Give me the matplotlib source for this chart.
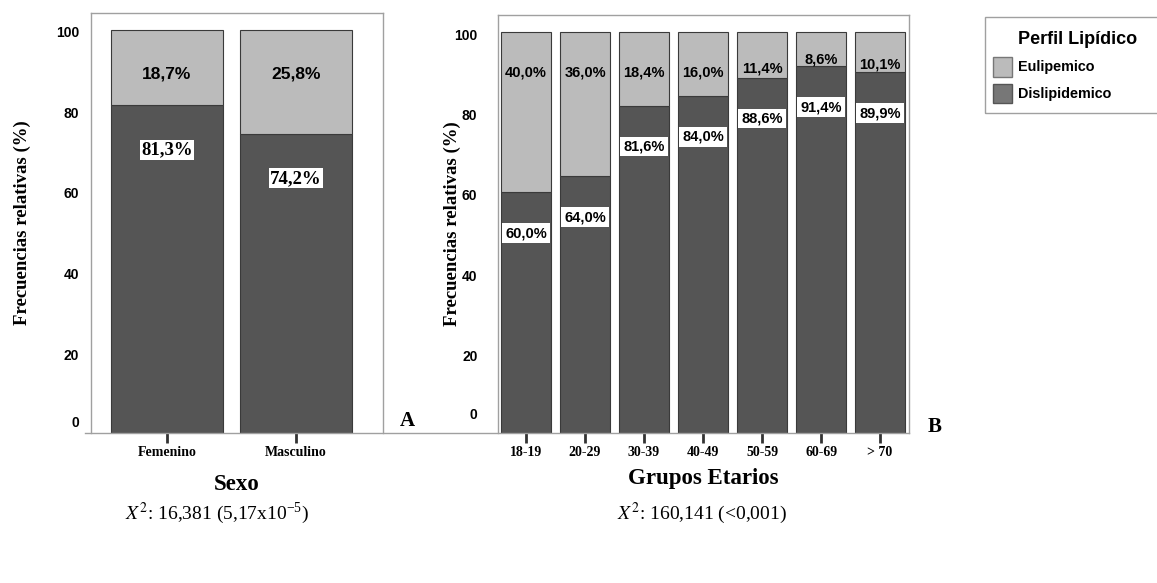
import numpy as np
import matplotlib
matplotlib.use("Agg")
import matplotlib.pyplot as plt
from matplotlib.patches import Patch, Rectangle
from matplotlib.lines import Line2D
import matplotlib.transforms as mtrans

# data
sexo = ["Femenino", "Masculino"]
sexo_disli = [81.3, 74.2]
sexo_euli = [18.7, 25.8]

grupos = ["18-19", "20-29", "30-39", "40-49", "50-59", "60-69", "> 70"]
grupos_disli = [60.0, 64.0, 81.6, 84.0, 88.6, 91.4, 89.9]
grupos_euli = [40.0, 36.0, 18.4, 16.0, 11.4, 8.6, 10.1]

yticks = [0, 20, 40, 60, 80, 100]

LIGHT = "#bbbbbb"
DARK = "#555555"
EDGE = "#3a3a3a"
FRAME = "#a0a0a0"
SANS = "Liberation Sans"
SERIF = "Liberation Serif"

W, H = 1157, 583
fig = plt.figure(figsize=(W / 100, H / 100), dpi=100)


def px(x0, y0, x1, y1):
    # pixel box -> figure fraction rect
    return [x0 / W, 1 - y1 / H, (x1 - x0) / W, (y1 - y0) / H]


def pct(v):
    return ("%.1f" % v).replace(".", ",") + "%"


def setupAx(ax, labels, xlim, lbl_pad, zero_up, other_dn):
    ax.set_xlim(*xlim)
    ax.set_ylim(0, 104.2)
    for s in ["left", "top", "right"]:
        ax.spines[s].set_color(FRAME)
        ax.spines[s].set_linewidth(1)
    ax.spines["bottom"].set_visible(False)
    ax.set_yticks([])
    tr = mtrans.blended_transform_factory(ax.transAxes, ax.transData)
    for v in yticks:
        off = zero_up if v == 0 else -other_dn
        ax.text(-lbl_pad, v + off, str(v), transform=tr, ha="right", va="center",
                fontfamily=SANS, fontweight="bold", fontsize=10)
    ax.set_xticks(range(len(labels)))
    ax.set_xticklabels(labels, fontfamily=SERIF, fontweight="bold", fontsize=10)
    ax.tick_params(axis="x", direction="out", length=7, width=2, color="#333333", pad=2)
    ax.set_ylabel("Frecuencias relativas (%)", fontfamily=SERIF, fontweight="bold", fontsize=13.5)


# ---- panel A
axA = fig.add_axes(px(91, 13, 383, 433))
x = np.arange(len(sexo))
axA.bar(x, sexo_disli, width=0.868, color=DARK, edgecolor=EDGE, linewidth=0.8)
axA.bar(x, sexo_euli, bottom=sexo_disli, width=0.868, color=LIGHT, edgecolor=EDGE, linewidth=0.8)
setupAx(axA, sexo, (-0.589, 1.674), 0.041, 2.5, 0.8)
axA.yaxis.set_label_coords(-0.205, 0.5)
for i in range(len(sexo)):
    top = sexo_disli[i] + sexo_euli[i]
    axA.text(x[i], min(100, top) - 11, pct(sexo_euli[i]),
             ha="center", va="center", fontfamily=SANS, fontweight="bold", fontsize=12.5)
    axA.text(x[i], sexo_disli[i] - 11, pct(sexo_disli[i]),
             ha="center", va="center", fontfamily=SERIF, fontweight="bold", fontsize=13.5,
             bbox=dict(boxstyle="square,pad=0.08", fc="white", ec="none"))
axA.set_xlabel("Sexo", fontfamily=SERIF, fontweight="bold", fontsize=16.5, labelpad=11)

# ---- panel B
axB = fig.add_axes(px(498, 15, 909, 433))
xb = np.arange(len(grupos))
axB.bar(xb, grupos_disli, width=0.85, color=DARK, edgecolor=EDGE, linewidth=0.8)
axB.bar(xb, grupos_euli, bottom=grupos_disli, width=0.85, color=LIGHT, edgecolor=EDGE, linewidth=0.8)
setupAx(axB, grupos, (-0.475, 6.49), 0.05, 4.5, 1.0)
axB.yaxis.set_label_coords(-0.09, 0.5)
for i in range(len(grupos)):
    lo = grupos_disli[i]
    seg = grupos_euli[i]
    ly = max(100 - 10.2, lo + 0.2 * seg)
    axB.text(xb[i], ly, pct(seg),
             ha="center", va="center", fontfamily=SANS, fontweight="bold", fontsize=10.5)
    axB.text(xb[i], lo - 10.2, pct(lo),
             ha="center", va="center", fontfamily=SANS, fontweight="bold", fontsize=10.5,
             bbox=dict(boxstyle="square,pad=0.2", fc="white", ec="none"))
axB.set_xlabel("Grupos Etarios", fontfamily=SERIF, fontweight="bold", fontsize=16.5, labelpad=7)

# long base line joining both panels
fig.add_artist(Line2D([85 / W, 909 / W], [1 - 433 / H, 1 - 433 / H], color=FRAME, linewidth=1))

# panel letters
fig.text(407 / W, 1 - 421 / H, "A", ha="center", va="center", fontfamily=SERIF,
         fontweight="bold", fontsize=15)
fig.text(935 / W, 1 - 427 / H, "B", ha="center", va="center", fontfamily=SERIF,
         fontweight="bold", fontsize=15)

# chi-square notes
plt.rcParams["mathtext.fontset"] = "stix"
fig.text(217 / W, 1 - 513 / H, r"$\mathit{X}^{2}$: 16,381 (5,17x10$^{\mathregular{-5}}$)",
         ha="center", va="center", fontfamily=SERIF, fontsize=14)
fig.text(702 / W, 1 - 513 / H, r"$\mathit{X}^{2}$: 160,141 (<0,001)",
         ha="center", va="center", fontfamily=SERIF, fontsize=14)

# legend (frame runs off the right edge)
fig.add_artist(Rectangle((985 / W, 1 - 113 / H), 200 / W, 96 / H, transform=fig.transFigure,
                         fill=False, edgecolor=FRAME, linewidth=1))
fig.text(1078 / W, 1 - 39 / H, "Perfil Lipídico", ha="center", va="center",
         fontfamily=SANS, fontweight="bold", fontsize=13)
handles = [Patch(facecolor=LIGHT, edgecolor="#777777", label="Eulipemico"),
           Patch(facecolor="#777777", edgecolor="#555555", label="Dislipidemico")]
fig.legend(handles=handles, loc="upper left", bbox_to_anchor=(993 / W, 1 - 57 / H),
           frameon=False, borderpad=0, borderaxespad=0, handlelength=1.3, handleheight=1.7,
           handletextpad=0.45, labelspacing=0.5,
           prop={"family": SANS, "weight": "bold", "size": 10.4})

plt.savefig("out.png", dpi=100)
